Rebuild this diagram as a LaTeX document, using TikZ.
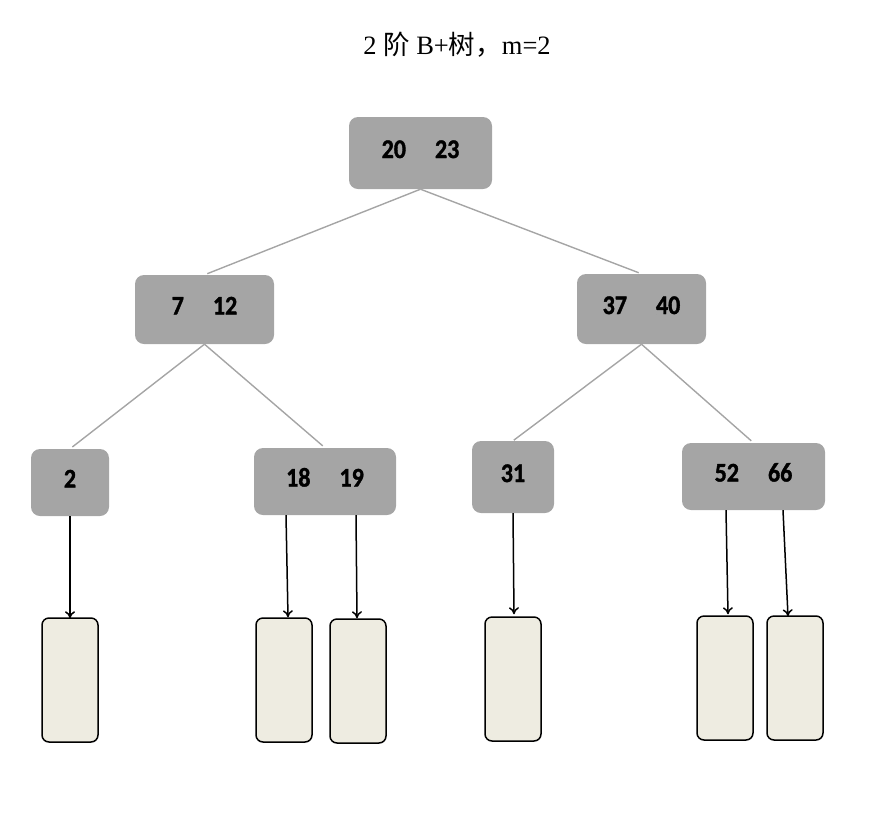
\documentclass[tikz,border=0pt]{standalone}
\usepackage{graphicx}
\usepackage{fontspec}
\setmainfont{Liberation Serif}
\newfontfamily\cjk{Noto Sans CJK SC}
\newfontfamily\keyfont{Carlito}[UprightFont=*-Bold, FakeBold=1.5]
\usetikzlibrary{arrows.meta}
\definecolor{treegray}{HTML}{A5A5A5}
\definecolor{leafcream}{HTML}{EEECE1}
\newcommand{\keypair}[2]{\scalebox{1}[1.12]{#1\hspace{29pt}#2}}
\newcommand{\onekey}[1]{\scalebox{1}[1.12]{#1}}
\begin{document}
\begin{tikzpicture}[x=1pt, y=-1pt, >={To[length=7pt,width=10pt]},
	inner/.style={rounded corners=9pt, fill=treegray, inner sep=0pt, text height=17pt, text depth=7pt, font=\keyfont\fontsize{24}{28}\selectfont},
	leaf/.style={rounded corners=7pt, draw=black, fill=leafcream, line width=1.5pt, minimum width=56pt, minimum height=124pt},
	branch/.style={draw=treegray, line width=1.4pt, shorten >=3pt},
	pointer/.style={->, line width=1.5pt}]
		\useasboundingbox (0,0) rectangle (881,831);
		\node[font=\fontsize{26.5}{30}\selectfont](title) at (457,45){2 {\cjk 阶} B+{\cjk 树，}m=2};

		\node[inner, minimum width=143pt, minimum height=72pt](root) at (420.5,153){\keypair{20}{23}};
		\node[inner, minimum width=139pt, minimum height=69pt](seven) at (204.5,309.5){\keypair{7}{12}};
		\node[inner, minimum width=129pt, minimum height=70pt](thirtyseven) at (641.5,309){\keypair{37}{40}};
		\node[inner, minimum width=78pt, minimum height=67pt](two) at (70,482.5){\onekey{2}};
		\node[inner, minimum width=142pt, minimum height=67pt](eighteen) at (325,481.5){\keypair{18}{19}};
		\node[inner, minimum width=82pt, minimum height=72pt](thirtyone) at (513,477){\onekey{31}};
		\node[inner, minimum width=143pt, minimum height=67pt](fiftytwo) at (753.5,476.5){\keypair{52}{66}};

		\node[leaf](leafone) at (70,680){};
		\node[leaf](leaftwo) at (284,680){};
		\node[leaf](leafthree) at (358,681){};
		\node[leaf](leaffour) at (513,679){};
		\node[leaf](leaffive) at (725,678){};
		\node[leaf](leafsix) at (795,678){};

		\draw[branch] (root.south) -- (seven.north);
		\draw[branch] (root.south) -- (thirtyseven.north);
		\draw[branch] (seven.south) -- (two.north);
		\draw[branch] (seven.south) -- (eighteen.north);
		\draw[branch, shorten >=1pt] (thirtyseven.south) -- (thirtyone.north);
		\draw[branch] (thirtyseven.south) -- (fiftytwo.north);

		\draw[pointer] (two.south) -- ([yshift=-1pt]leafone.north);
		\draw[pointer] ([xshift=-39pt]eighteen.south) -- ([xshift=4pt]leaftwo.north);
		\draw[pointer] ([xshift=31pt]eighteen.south) -- ([xshift=-1pt]leafthree.north);
		\draw[pointer] (thirtyone.south) -- ([xshift=1pt,yshift=2pt]leaffour.north);
		\draw[pointer] ([xshift=-27.5pt]fiftytwo.south) -- ([xshift=3pt,yshift=1pt]leaffive.north);
		\draw[pointer] ([xshift=29.5pt]fiftytwo.south) -- ([xshift=-7pt,yshift=-1pt]leafsix.north);
	\end{tikzpicture}
\end{document}
